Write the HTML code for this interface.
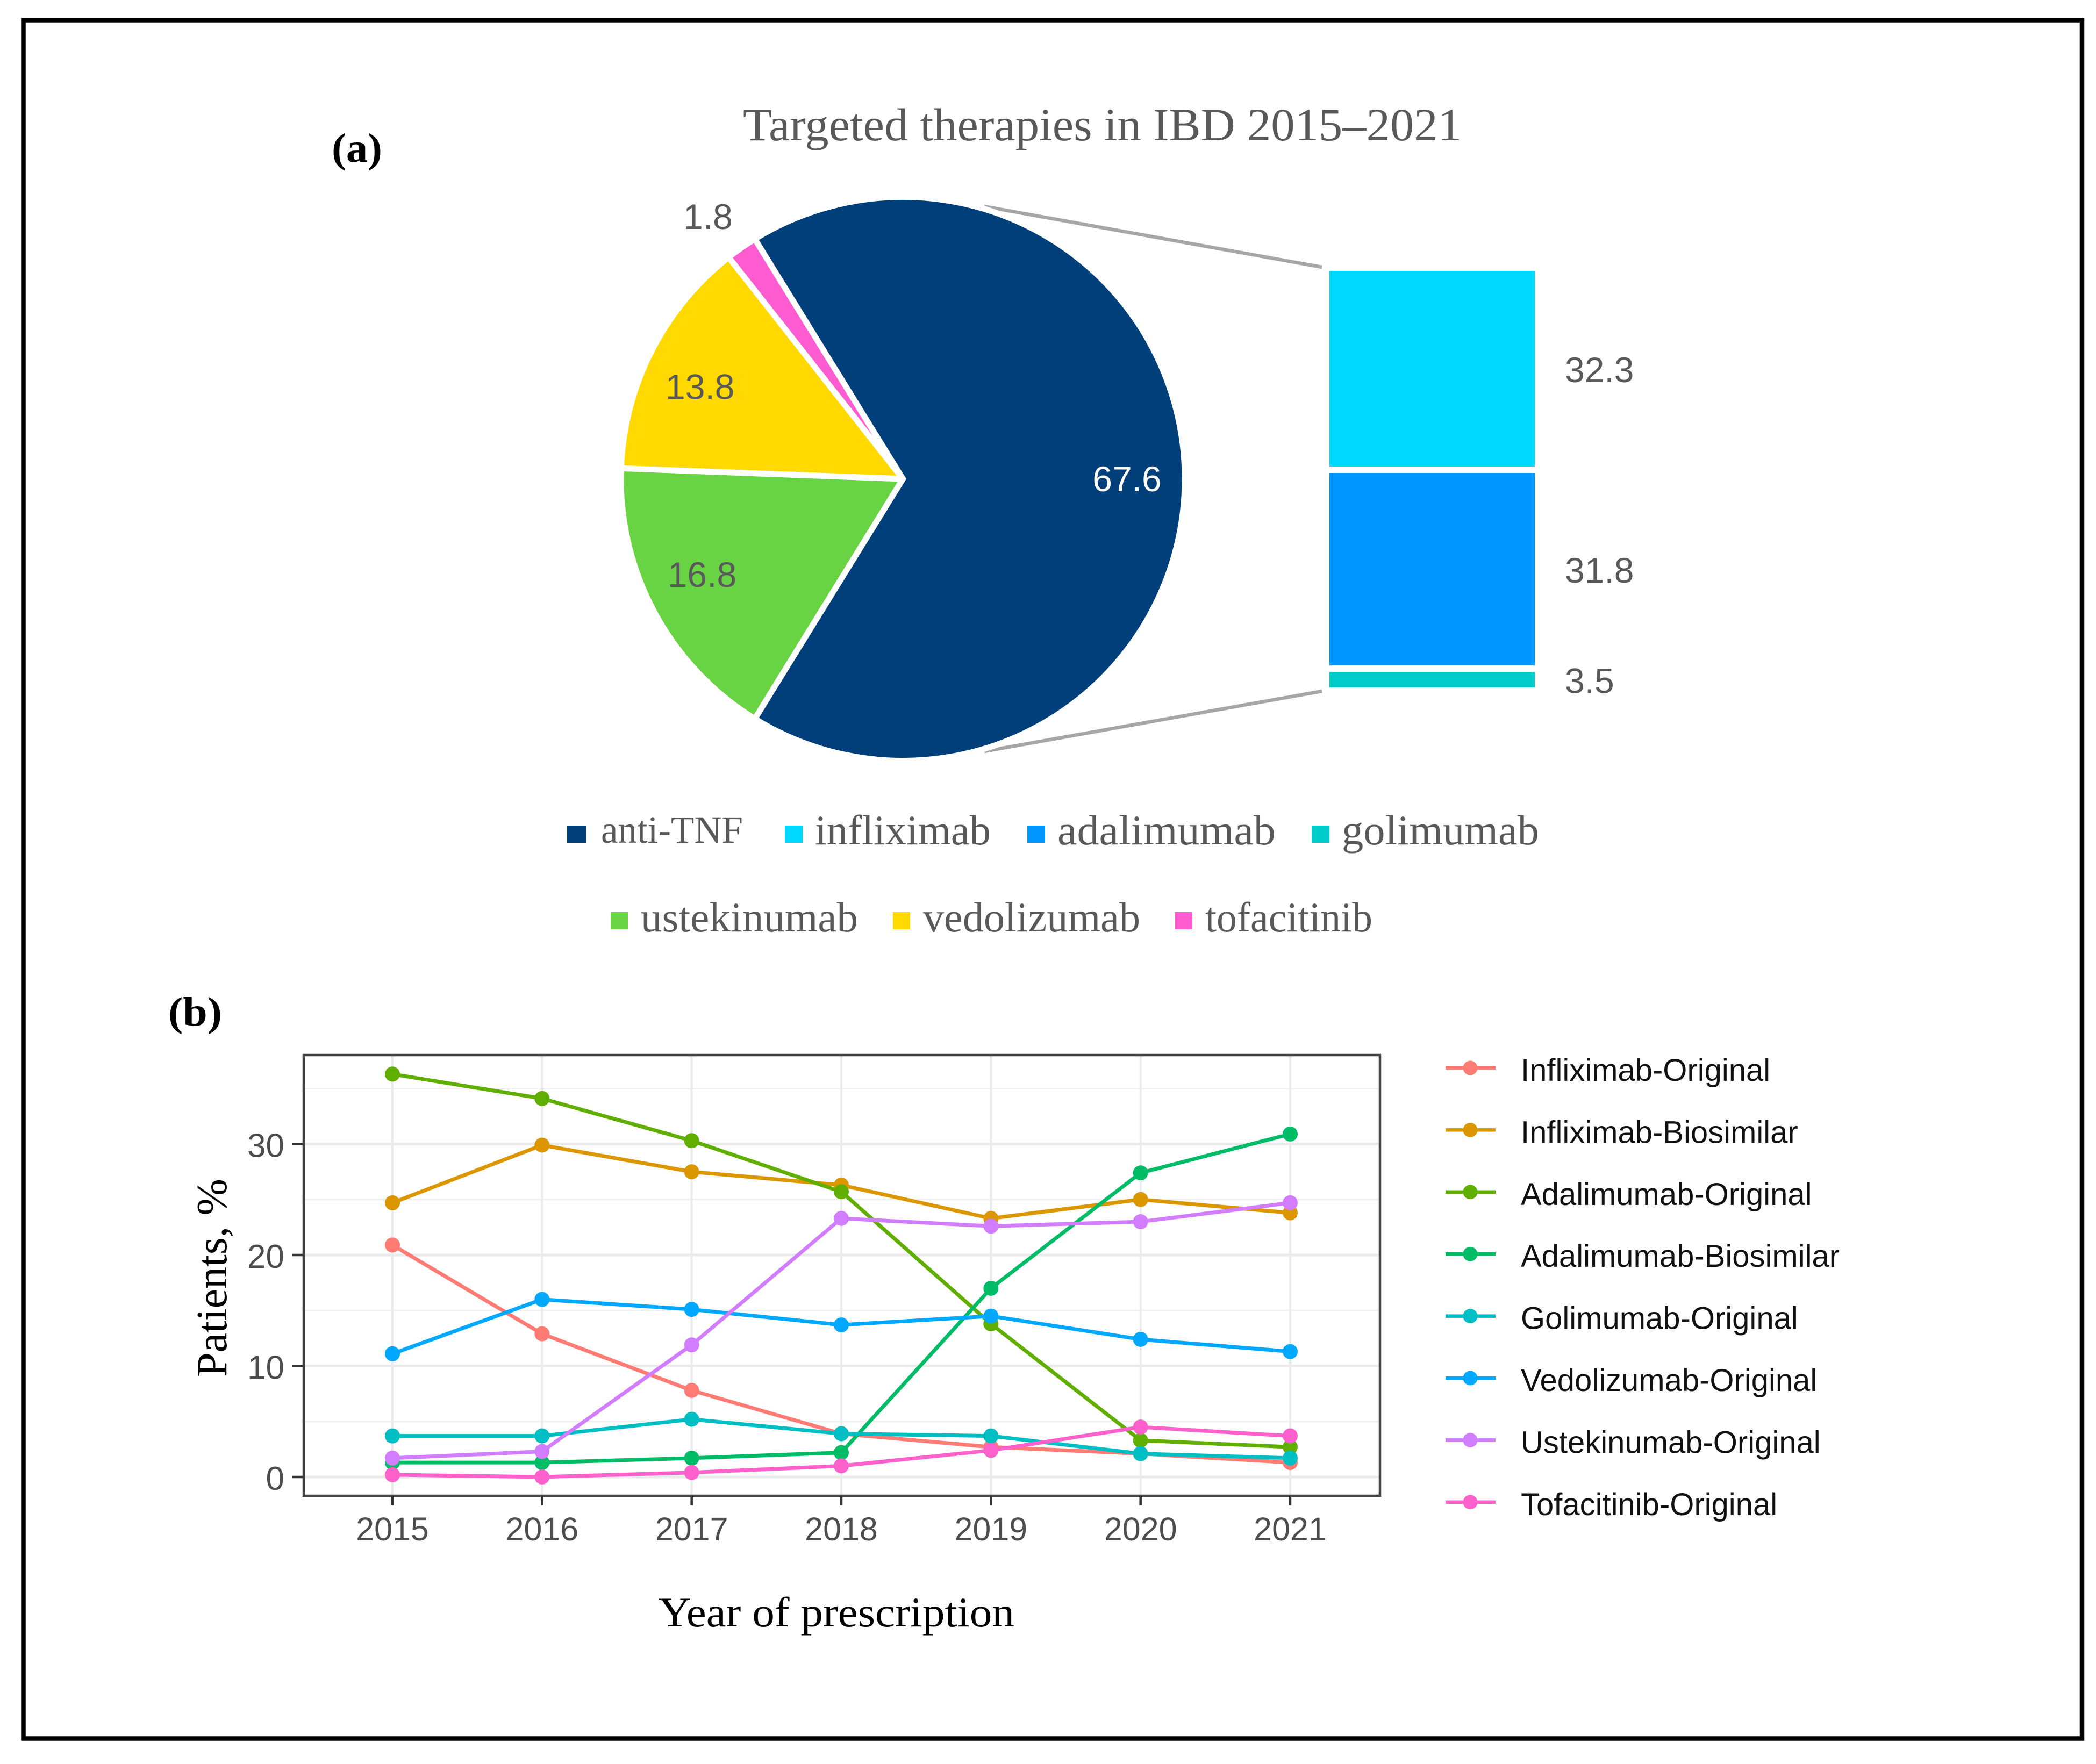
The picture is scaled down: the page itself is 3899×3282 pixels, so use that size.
<!DOCTYPE html>
<html lang="en">
<head>
<meta charset="utf-8">
<title>Targeted therapies in IBD 2015–2021</title>
<style>
  html, body { margin: 0; padding: 0; background: #fff; }
  svg { display: block; }
  text { font-family: "Liberation Serif", serif; }
  .sans { font-family: "Liberation Sans", sans-serif; }
</style>
</head>
<body>
<svg id="figure" xmlns="http://www.w3.org/2000/svg" width="3899" height="3282" viewBox="0 0 3899 3282">
  <rect x="0" y="0" width="3899" height="3282" fill="#ffffff"/>
  <rect x="43.5" y="37.5" width="3829.5" height="3197" fill="none" stroke="#000000" stroke-width="8.5"/>

  <text x="617" y="301" font-size="76" font-weight="bold" fill="#000" textLength="94" lengthAdjust="spacingAndGlyphs">(a)</text>
  <text x="1382" y="261" font-size="86" fill="#595959" textLength="1337" lengthAdjust="spacingAndGlyphs">Targeted therapies in IBD 2015–2021</text>

  <line x1="1831" y1="384" x2="2459" y2="497" stroke="#a6a6a6" stroke-width="6.5"/>
  <line x1="1831" y1="1398" x2="2459" y2="1286" stroke="#a6a6a6" stroke-width="6.5"/>
  <g id="pie"></g>
  <g id="stack"></g>

  <g>
    <g><rect x="1055" y="1536" width="35" height="32" fill="#003F7A"/><text x="1118" y="1568" font-size="72" fill="#595959" textLength="264" lengthAdjust="spacingAndGlyphs">anti-TNF</text></g>
    <g><rect x="1460" y="1536" width="33" height="32" fill="#00D9FF"/><text x="1516" y="1571" font-size="78" fill="#595959" textLength="327" lengthAdjust="spacingAndGlyphs">infliximab</text></g>
    <g><rect x="1911" y="1536" width="33" height="32" fill="#0096FF"/><text x="1967" y="1571" font-size="78" fill="#595959" textLength="406" lengthAdjust="spacingAndGlyphs">adalimumab</text></g>
    <g><rect x="2440" y="1536" width="33" height="32" fill="#00CCCC"/><text x="2496" y="1571" font-size="78" fill="#595959" textLength="367" lengthAdjust="spacingAndGlyphs">golimumab</text></g>
    <g><rect x="1136" y="1697" width="32" height="32" fill="#69D443"/><text x="1192" y="1733" font-size="78" fill="#595959" textLength="404" lengthAdjust="spacingAndGlyphs">ustekinumab</text></g>
    <g><rect x="1661" y="1697" width="32" height="32" fill="#FFD900"/><text x="1717" y="1733" font-size="78" fill="#595959" textLength="404" lengthAdjust="spacingAndGlyphs">vedolizumab</text></g>
    <g><rect x="2186" y="1697" width="32" height="32" fill="#FF5CD2"/><text x="2242" y="1733" font-size="78" fill="#595959" textLength="311" lengthAdjust="spacingAndGlyphs">tofacitinib</text></g>
  </g>

  <text x="313" y="1908" font-size="76" font-weight="bold" fill="#000" textLength="100" lengthAdjust="spacingAndGlyphs">(b)</text>
  <g id="line-chart"></g>
  <text transform="translate(421,2562) rotate(-90)" x="0" y="0" font-size="80" fill="#000" textLength="369" lengthAdjust="spacingAndGlyphs">Patients, %</text>
  <text x="1225" y="3026" font-size="78" fill="#000" textLength="662" lengthAdjust="spacingAndGlyphs">Year of prescription</text>
  <g id="line-legend"></g>
</svg>

<script>
// Pie chart data
const pieCategories = ["anti-TNF", "ustekinumab", "vedolizumab", "tofacitinib"];
const pieValues = [67.6, 16.8, 13.8, 1.8];
const pieColors = ["#003F7A", "#69D443", "#FFD900", "#FF5CD2"];
const pieLabelColors = ["#ffffff", "#595959", "#595959", "#595959"];

// Breakdown bar data
const stackCategories = ["infliximab", "adalimumab", "golimumab"];
const stackValues = [32.3, 31.8, 3.5];
const stackColors = ["#00D9FF", "#0096FF", "#00CCCC"];

// Line chart data
const years = [2015, 2016, 2017, 2018, 2019, 2020, 2021];
const yTicks = [0, 10, 20, 30];
const yMinorTicks = [5, 15, 25, 35];
const seriesNames = ["Infliximab-Original", "Infliximab-Biosimilar", "Adalimumab-Original", "Adalimumab-Biosimilar", "Golimumab-Original", "Vedolizumab-Original", "Ustekinumab-Original", "Tofacitinib-Original"];
const seriesColors = ["#FF7B74", "#DC9600", "#5FAE00", "#00BC66", "#00BFC4", "#00A9FF", "#D27CFF", "#FF61CC"];
const infliximabOriginal = [20.9, 12.9, 7.8, 3.9, 2.7, 2.1, 1.3];
const infliximabBiosimilar = [24.7, 29.9, 27.5, 26.3, 23.3, 25.0, 23.8];
const adalimumabOriginal = [36.3, 34.1, 30.3, 25.7, 13.8, 3.3, 2.7];
const adalimumabBiosimilar = [1.3, 1.3, 1.7, 2.2, 17.0, 27.4, 30.9];
const golimumabOriginal = [3.7, 3.7, 5.2, 3.9, 3.7, 2.1, 1.7];
const vedolizumabOriginal = [11.1, 16.0, 15.1, 13.7, 14.5, 12.4, 11.3];
const ustekinumabOriginal = [1.7, 2.3, 11.9, 23.3, 22.6, 23.0, 24.7];
const tofacitinibOriginal = [0.2, 0.0, 0.4, 1.0, 2.4, 4.5, 3.7];
const seriesValues = [infliximabOriginal, infliximabBiosimilar, adalimumabOriginal, adalimumabBiosimilar, golimumabOriginal, vedolizumabOriginal, ustekinumabOriginal, tofacitinibOriginal];

const NS = "http://www.w3.org/2000/svg";
function make(tag, attrs, parent) {
  const el = document.createElementNS(NS, tag);
  for (const k in attrs) el.setAttribute(k, attrs[k]);
  parent.appendChild(el);
  return el;
}
function slug(s) { return s.toLowerCase().replace(/[^a-z0-9]+/g, "-"); }

/* ---------- Pie ---------- */
(function () {
  const g = document.getElementById("pie");
  const cx = 1679.5, cy = 891, r = 519;
  const total = pieValues.reduce((a, b) => a + b, 0);
  const polar = (rad, deg) => [cx + rad * Math.cos(deg * Math.PI / 180), cy + rad * Math.sin(deg * Math.PI / 180)];
  let start = -(pieValues[0] / total) * 180;
  pieValues.forEach((v, i) => {
    const sweep = v / total * 360;
    const end = start + sweep;
    const p0 = polar(r + 5.5, start), p1 = polar(r + 5.5, end);
    const d = `M${cx} ${cy}L${p0[0]} ${p0[1]}A${r + 5.5} ${r + 5.5} 0 ${sweep > 180 ? 1 : 0} 1 ${p1[0]} ${p1[1]}Z`;
    const path = make("path", { d: d, fill: pieColors[i], stroke: "#ffffff", "stroke-width": 11, "stroke-linejoin": "round" }, g);
    
    
    start = end;
  });
  start = -(pieValues[0] / total) * 180;
  pieValues.forEach((v, i) => {
    const sweep = v / total * 360;
    const mid = start + sweep / 2;
    const rad = mid * Math.PI / 180;
    const rx = v < 5 ? 628 : 420;
    const ry = v < 5 ? 595 : 378;
    const t = make("text", { x: cx - 3 + rx * Math.cos(rad), y: cy + ry * Math.sin(rad) + 23, "text-anchor": "middle", "font-size": 66, fill: pieLabelColors[i], "class": "sans" }, g);
    
    
    t.textContent = v.toFixed(1);
    start += sweep;
  });
})();

/* ---------- Stacked bar ---------- */
(function () {
  const g = document.getElementById("stack");
  const top = 498, bottom = 1285, left = 2467, right = 2861;
  const total = stackValues.reduce((a, b) => a + b, 0);
  const scale = (bottom - top) / total;
  let y = top;
  stackValues.forEach((v, i) => {
    const h = v * scale;
    const rect = make("rect", { x: left, y: y, width: right - left, height: h, fill: stackColors[i], stroke: "#ffffff", "stroke-width": 12 }, g);
    
    
    const t = make("text", { x: 2911, y: y + h / 2 + 25, "font-size": 66, fill: "#595959", "class": "sans" }, g);
    
    
    t.textContent = v.toFixed(1);
    y += h;
  });
})();

/* ---------- Line chart ---------- */
(function () {
  const g = document.getElementById("line-chart");
  const panel = { left: 565, right: 2567, top: 1963, bottom: 2783 };
  const xScale = yr => 730 + (yr - years[0]) * (2400 - 730) / (years[years.length - 1] - years[0]);
  const yScale = v => 2748 - v * 20.65;

  yMinorTicks.forEach(v => {
    const l = make("line", { x1: panel.left, x2: panel.right, y1: yScale(v), y2: yScale(v), stroke: "#f0f0f0", "stroke-width": 3 }, g);
    
    
  });
  yTicks.forEach(v => {
    const l = make("line", { x1: panel.left, x2: panel.right, y1: yScale(v), y2: yScale(v), stroke: "#ebebeb", "stroke-width": 5 }, g);
    
    
  });
  years.forEach(yr => {
    const l = make("line", { x1: xScale(yr), x2: xScale(yr), y1: panel.top, y2: panel.bottom, stroke: "#ebebeb", "stroke-width": 4 }, g);
    
    
  });

  seriesValues.forEach((vals, i) => {
    const pts = vals.map((v, j) => xScale(years[j]) + "," + yScale(v)).join(" ");
    const pl = make("polyline", { points: pts, fill: "none", stroke: seriesColors[i], "stroke-width": 7, "stroke-linejoin": "round" }, g);
    
    
  });
  seriesValues.forEach((vals, i) => {
    vals.forEach((v, j) => {
      const c = make("circle", { cx: xScale(years[j]), cy: yScale(v), r: 14, fill: seriesColors[i] }, g);
      
      
    });
  });

  const border = make("rect", { x: panel.left, y: panel.top, width: panel.right - panel.left, height: panel.bottom - panel.top, fill: "none", stroke: "#444444", "stroke-width": 4.5 }, g);
  
  

  yTicks.forEach(v => {
    const tick = make("line", { x1: panel.left - 21, x2: panel.left, y1: yScale(v), y2: yScale(v), stroke: "#333333", "stroke-width": 4.5 }, g);
    
    
    const t = make("text", { x: 529, y: yScale(v) + 24, "text-anchor": "end", "font-size": 62, fill: "#4d4d4d", "class": "sans" }, g);
    
    
    t.textContent = v;
  });
  years.forEach(yr => {
    const tick = make("line", { x1: xScale(yr), x2: xScale(yr), y1: panel.bottom, y2: panel.bottom + 18, stroke: "#333333", "stroke-width": 4.5 }, g);
    
    
    const t = make("text", { x: xScale(yr), y: 2866, "text-anchor": "middle", "font-size": 61, fill: "#4d4d4d", "class": "sans" }, g);
    
    
    t.textContent = yr;
  });

  const lg = document.getElementById("line-legend");
  seriesNames.forEach((name, i) => {
    const y = 1987 + i * 115.4;
    const e = make("g", {}, lg);
    
    
    const l = make("line", { x1: 2689, x2: 2782, y1: y, y2: y, stroke: seriesColors[i], "stroke-width": 6.5 }, e);
    
    
    const c = make("circle", { cx: 2735, cy: y, r: 13.5, fill: seriesColors[i] }, e);
    
    
    const t = make("text", { x: 2829, y: y + 24, "font-size": 58, fill: "#111111", "class": "sans" }, e);
    
    
    t.textContent = name;
  });
})();
</script>
</body>
</html>
